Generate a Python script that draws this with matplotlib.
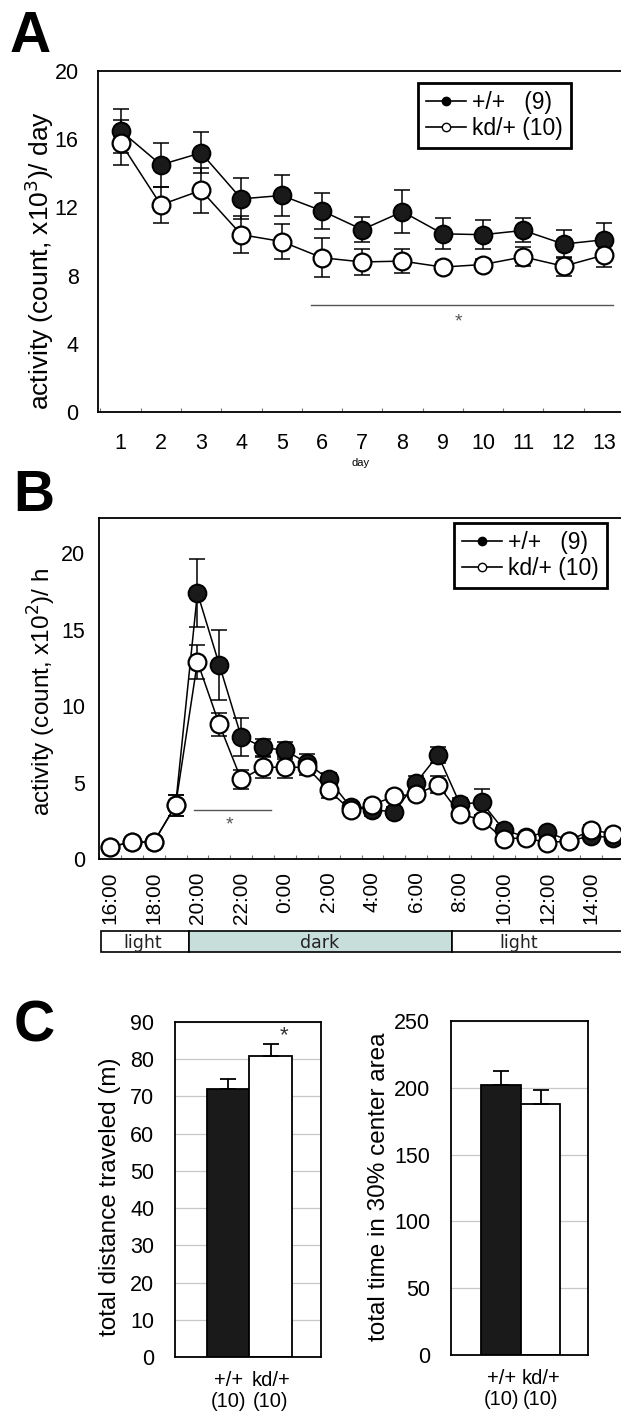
import matplotlib
matplotlib.use('Agg')
import matplotlib.pyplot as plt
from matplotlib.lines import Line2D
import numpy as np

plt.rcParams['font.family'] = ['Liberation Sans', 'DejaVu Sans']

# ---------------- data ----------------
days = list(range(1, 14))
wt_daily = [16.5, 14.5, 15.2, 12.5, 12.7, 11.8, 10.7, 11.75, 10.45, 10.4, 10.65, 9.85, 10.1]
wt_daily_err = [1.3, 1.3, 1.2, 1.2, 1.2, 1.05, 0.75, 1.25, 0.9, 0.85, 0.7, 0.8, 1.0]
kd_daily = [15.8, 12.15, 13.0, 10.4, 10.0, 9.05, 8.8, 8.85, 8.5, 8.65, 9.1, 8.55, 9.2]
kd_daily_err = [1.3, 1.05, 1.33, 1.1, 1.05, 1.15, 0.75, 0.7, 0.3, 0.3, 0.55, 0.55, 0.7]

hours = ['16:00', '17:00', '18:00', '19:00', '20:00', '21:00', '22:00', '23:00',
         '0:00', '1:00', '2:00', '3:00', '4:00', '5:00', '6:00', '7:00',
         '8:00', '9:00', '10:00', '11:00', '12:00', '13:00', '14:00', '15:00']
wt_hourly = [0.8, 1.1, 1.1, 3.5, 17.4, 12.7, 8.0, 7.3, 7.1, 6.3, 5.2, 3.4,
             3.2, 3.1, 5.0, 6.8, 3.6, 3.7, 1.9, 1.45, 1.75, 1.2, 1.5, 1.4]
wt_hourly_err = [0.2, 0.2, 0.2, 0.7, 2.2, 2.3, 1.25, 0.55, 0.55, 0.55, 0.4, 0.3,
                 0.4, 0.3, 0.4, 0.55, 0.4, 0.85, 0.3, 0.2, 0.3, 0.2, 0.2, 0.2]
kd_hourly = [0.8, 1.1, 1.1, 3.5, 12.9, 8.8, 5.2, 6.0, 6.0, 6.0, 4.5, 3.2,
             3.55, 4.1, 4.25, 4.85, 2.95, 2.55, 1.3, 1.4, 1.05, 1.2, 1.9, 1.65]
kd_hourly_err = [0.2, 0.2, 0.2, 0.7, 1.1, 0.75, 0.6, 0.7, 0.7, 0.5, 0.5, 0.3,
                 0.3, 0.3, 0.3, 0.55, 0.3, 0.3, 0.3, 0.2, 0.2, 0.2, 0.3, 0.2]

period_labels = ['light', 'dark', 'light']
period_start = [-0.4, 3.6, 15.65]
period_end = [3.6, 15.65, 24.5]
period_colors = ['white', '#c8dedb', 'white']

groups = ['+/+\n(10)', 'kd/+\n(10)']
distance = [72.0, 81.0]
distance_err = [2.8, 3.0]
center_time = [202.0, 188.0]
center_time_err = [10.5, 10.5]

legend_labels = ['+/+   (9)', 'kd/+ (10)']

# ---------------- layout ----------------
W, H = 621, 1413
fig = plt.figure(figsize=(W / 100, H / 100), dpi=100)
fig.patch.set_facecolor('white')


def px_axes(l, t, r, b):
    return fig.add_axes([l / W, 1 - b / H, (r - l) / W, (b - t) / H])


TICK_FS = 15.5
LABEL_FS = 17.5
SPINE_LW = 1.3
MS = 12.8


def style_frame(ax):
    for s in ax.spines.values():
        s.set_linewidth(SPINE_LW)
        s.set_color('black')


def series(ax, x, wt, wt_err, kd, kd_err):
    ax.errorbar(x, wt, yerr=wt_err, fmt='none', ecolor='black', elinewidth=1.1,
                capsize=5.5, capthick=1.1, zorder=2)
    ax.errorbar(x, kd, yerr=kd_err, fmt='none', ecolor='black', elinewidth=1.1,
                capsize=5.5, capthick=1.1, zorder=2)
    ax.plot(x, wt, '-o', color='black', lw=1.1, ms=MS, mfc='#1a1a1a', mec='black',
            mew=1.4, zorder=3)
    ax.plot(x, kd, '-o', color='black', lw=1.1, ms=MS, mfc='white', mec='black',
            mew=1.6, zorder=4)


def add_legend(ax, l, t):
    handles = [Line2D([], [], color='black', lw=1.2, marker='o', ms=6, mfc='black', mec='black'),
               Line2D([], [], color='black', lw=1.2, marker='o', ms=6, mfc='white', mec='black')]
    leg = ax.legend(handles, legend_labels, loc='upper left',
                    bbox_to_anchor=(l / W, 1 - t / H), bbox_transform=fig.transFigure,
                    borderaxespad=0, fancybox=False, framealpha=1, edgecolor='black',
                    fontsize=16.5, handlelength=1.75, handletextpad=0.25, labelspacing=0.12,
                    borderpad=0.35)
    leg.get_frame().set_linewidth(2.0)


# ---------------- Panel A ----------------
axA = px_axes(98, 71, 624, 412)
series(axA, days, wt_daily, wt_daily_err, kd_daily, kd_daily_err)
axA.set_xlim(0.44, 13.5)
axA.set_ylim(0, 20)
axA.set_yticks([0, 4, 8, 12, 16, 20])
axA.set_xticks(days)
axA.set_xticklabels([str(d) for d in days])
axA.set_xticks(np.arange(0.5, 14.0, 1.0), minor=True)
axA.tick_params(axis='x', which='major', length=0, pad=15, labelsize=TICK_FS)
axA.tick_params(axis='x', which='minor', direction='in', length=3, width=0.8, color='#777777')
axA.tick_params(axis='y', length=0, pad=14, labelsize=TICK_FS)
axA.set_ylabel('activity (count, x10$^3$)/ day', fontsize=19)
axA.yaxis.label.set_verticalalignment('center')
axA.yaxis.set_label_coords((39 - 98) / 526, 0.445)
axA.set_xlabel('day', fontsize=8)
axA.xaxis.label.set_verticalalignment('center')
axA.xaxis.set_label_coords(0.5, (412 - 463) / 341)
axA.plot([5.72, 13.23], [6.27, 6.27], color='#555555', lw=1.0)
axA.text(9.4, 5.3, '*', color='#555555', fontsize=14, ha='center', va='center')
style_frame(axA)
add_legend(axA, 418, 83)

# ---------------- Panel B ----------------
xh = np.arange(len(hours))
axB = px_axes(99, 518, 624, 859)
series(axB, xh, wt_hourly, wt_hourly_err, kd_hourly, kd_hourly_err)
axB.set_xlim(-0.5, 23.5)
axB.set_ylim(0, 22.3)
axB.set_yticks([0, 5, 10, 15, 20])
axB.set_xticks(xh[::2])
axB.set_xticklabels(hours[::2], rotation=90)
axB.set_xticks(np.arange(-0.5, 24.0, 1.0), minor=True)
axB.tick_params(axis='x', which='major', length=0, pad=9, labelsize=15)
axB.tick_params(axis='x', which='minor', direction='in', length=3, width=0.8, color='#777777')
axB.tick_params(axis='y', length=0, pad=10, labelsize=TICK_FS)
axB.set_ylabel('activity (count, x10$^2$)/ h', fontsize=LABEL_FS)
axB.yaxis.label.set_verticalalignment('center')
axB.yaxis.set_label_coords((42 - 99) / 525, 0.49)
axB.plot([3.84, 7.37], [3.2, 3.2], color='#555555', lw=1.0)
axB.text(5.45, 2.2, '*', color='#555555', fontsize=14, ha='center', va='center')
style_frame(axB)
add_legend(axB, 454, 523)

# light / dark bar
axLD = px_axes(99, 931, 624, 952)
axLD.set_xlim(axB.get_xlim())
axLD.set_ylim(0, 1)
for s, e, c in zip(period_start, period_end, period_colors):
    axLD.barh(0.5, e - s, left=s, height=1.0, color=c, edgecolor='black', lw=1.2, clip_on=False)
label_x = [1.5, 9.6, 18.7]
for lx, lab in zip(label_x, period_labels):
    axLD.text(lx, 0.45, lab, ha='center', va='center', fontsize=12.5,
              family=['DejaVu Sans'], color='#222222')
axLD.axis('off')

# ---------------- Panel C ----------------
xb = np.arange(len(groups))
bar_colors = ['#1a1a1a', 'white']


def bar_panel(ax, vals, errs, ymax, step, ylabel):
    ax.set_axisbelow(True)
    ax.yaxis.grid(True, color='#c8c8c8', lw=0.9)
    ax.bar(xb, vals, width=1.0, color=bar_colors, edgecolor='black', lw=1.3, zorder=2)
    ax.errorbar(xb, vals, yerr=[[0] * len(errs), errs], fmt='none', ecolor='black',
                elinewidth=1.3, capsize=6, capthick=1.3, zorder=3)
    ax.set_ylim(0, ymax)
    ax.set_yticks(np.arange(0, ymax + 1, step))
    ax.set_xlim(-1.27, 2.2)
    ax.set_xticks(xb)
    ax.set_xticklabels(groups, linespacing=1.15)
    ax.tick_params(axis='x', length=0, pad=10, labelsize=14.5)
    ax.tick_params(axis='y', length=0, pad=15, labelsize=TICK_FS)
    ax.set_ylabel(ylabel, fontsize=LABEL_FS)
    ax.yaxis.label.set_verticalalignment('center')
    style_frame(ax)


axC1 = px_axes(175, 1022, 321, 1357)
bar_panel(axC1, distance, distance_err, 90, 10, 'total distance traveled (m)')
axC1.yaxis.set_label_coords((110 - 175) / 146, 0.478)
axC1.text(1.32, 86.3, '*', fontsize=16, ha='center', va='center', color='#333333')

axC2 = px_axes(451, 1021, 588, 1355)
bar_panel(axC2, center_time, center_time_err, 250, 50, 'total time in 30% center area')
axC2.yaxis.set_label_coords((379 - 451) / 137, 0.503)

# panel letters
fig.text(10 / W, 1 - 52 / H, 'A', fontsize=41, fontweight='bold', va='baseline', ha='left')
fig.text(13 / W, 1 - 511 / H, 'B', fontsize=41, fontweight='bold', va='baseline', ha='left')
fig.text(14 / W, 1 - 1041 / H, 'C', fontsize=41, fontweight='bold', va='baseline', ha='left')

fig.savefig('out.png', dpi=100, facecolor='white')
